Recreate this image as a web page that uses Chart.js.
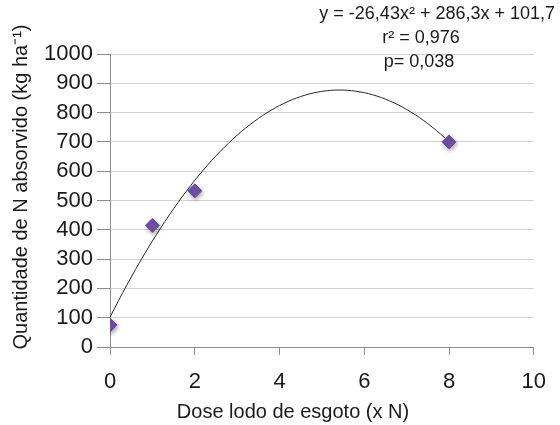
<!DOCTYPE html>
<html>
<head>
<meta charset="utf-8">
<script src="https://cdn.jsdelivr.net/npm/chart.js@4.4.1/dist/chart.umd.min.js"></script>
<style>
html,body{margin:0;padding:0;background:#fff;}
#wrap{width:560px;height:425px;position:relative;}
</style>
</head>
<body>
<div id="wrap"><canvas id="c" width="560" height="425"></canvas></div>
<script>
const doses = [0, 1, 2, 8];
const nAbsorbed = [75, 415, 533, 700];
// Fitted quadratic shown on the chart: y = a x² + b x + c
const trendCoefficients = [-26.43, 286.3, 101.7];
const trendRange = [0, 8];
const xTicks = [0, 2, 4, 6, 8, 10];
const yTicks = [0, 100, 200, 300, 400, 500, 600, 700, 800, 900, 1000];
const annotationLines = ["y = -26,43x² + 286,3x + 101,7", "r² = 0,976", "p= 0,038"];
const xTitle = "Dose lodo de esgoto (x N)";
const yTitle = "Quantidade de N absorvido (kg ha⁻¹)";

const FONT = "'Liberation Sans', Arial, sans-serif";

const trendPts = [];
for (let i = 0; i <= 80; i++) {
  const x = trendRange[0] + (trendRange[1] - trendRange[0]) * i / 80;
  trendPts.push({x: x, y: trendCoefficients[0]*x*x + trendCoefficients[1]*x + trendCoefficients[2]});
}

const annot = {
  id: 'annot',
  afterDraw(chart) {
    const ctx = chart.ctx;
    ctx.save();
    ctx.fillStyle = '#1a1a1a';
    ctx.font = '18px ' + FONT;
    ctx.textBaseline = 'middle';
    ctx.textAlign = 'right';
    ctx.fillText(annotationLines[0], 555, 14);
    ctx.textAlign = 'center';
    ctx.fillText(annotationLines[1], 421, 38);
    ctx.fillText(annotationLines[2], 419, 62);
    // axis titles
    ctx.font = '20px ' + FONT;
    ctx.fillText(xTitle, 293, 412);
    ctx.translate(21, 187);
    ctx.rotate(-Math.PI / 2);
    ctx.fillText(yTitle, 0, 0);
    ctx.restore();
  }
};

const shadow = {
  id: 'shadow',
  beforeDatasetDraw(chart, args) {
    if (args.index === 1) {
      chart.ctx.save();
      chart.ctx.shadowColor = 'rgba(0,0,0,0.35)';
      chart.ctx.shadowBlur = 4;
      chart.ctx.shadowOffsetX = 1;
      chart.ctx.shadowOffsetY = 2;
    }
  },
  afterDatasetDraw(chart, args) {
    if (args.index === 1) chart.ctx.restore();
  }
};

new Chart(document.getElementById('c'), {
  type: 'scatter',
  data: {
    datasets: [
      {
        type: 'line',
        data: trendPts,
        borderColor: '#262626',
        borderWidth: 1,
        pointRadius: 0,
        fill: false,
        tension: 0,
        order: 2
      },
      {
        data: doses.map((d, i) => ({x: d, y: nAbsorbed[i]})),
        backgroundColor: '#7150a6',
        borderColor: '#6a4a9c',
        borderWidth: 1,
        pointStyle: 'rectRot',
        pointRadius: 7,
        order: 1
      }
    ]
  },
  options: {
    responsive: false,
    animation: false,
    devicePixelRatio: 1,
    layout: {padding: {left: 0, right: 25, top: 54, bottom: 0}},
    plugins: {legend: {display: false}, tooltip: {enabled: false}},
    scales: {
      x: {
        type: 'linear',
        min: 0, max: 10,
        afterBuildTicks(s) { s.ticks = xTicks.map(v => ({value: v})); },
        afterFit(s) { s.height = 78; },
        border: {color: '#8c8c8c', width: 1},
        grid: {drawOnChartArea: false, drawTicks: true, tickLength: 8, tickColor: '#8c8c8c'},
        ticks: {color: '#1a1a1a', font: {family: FONT, size: 22}, padding: 14, autoSkip: false, maxRotation: 0, callback: v => String(v)},
        title: {display: false}
      },
      y: {
        type: 'linear',
        min: 0, max: 1000,
        afterBuildTicks(s) { s.ticks = yTicks.map(v => ({value: v})); },
        afterFit(s) { s.width = 110; },
        border: {color: '#8c8c8c', width: 1},
        grid: {color: '#d0d0d0', borderDash: [1, 1], drawTicks: true, tickLength: 13, tickColor: '#8c8c8c', tickBorderDash: []},
        ticks: {color: '#1a1a1a', font: {family: FONT, size: 22}, padding: 4, autoSkip: false, callback: v => String(v)},
        title: {display: false}
      }
    }
  },
  plugins: [annot, shadow]
});
</script>
</body>
</html>
